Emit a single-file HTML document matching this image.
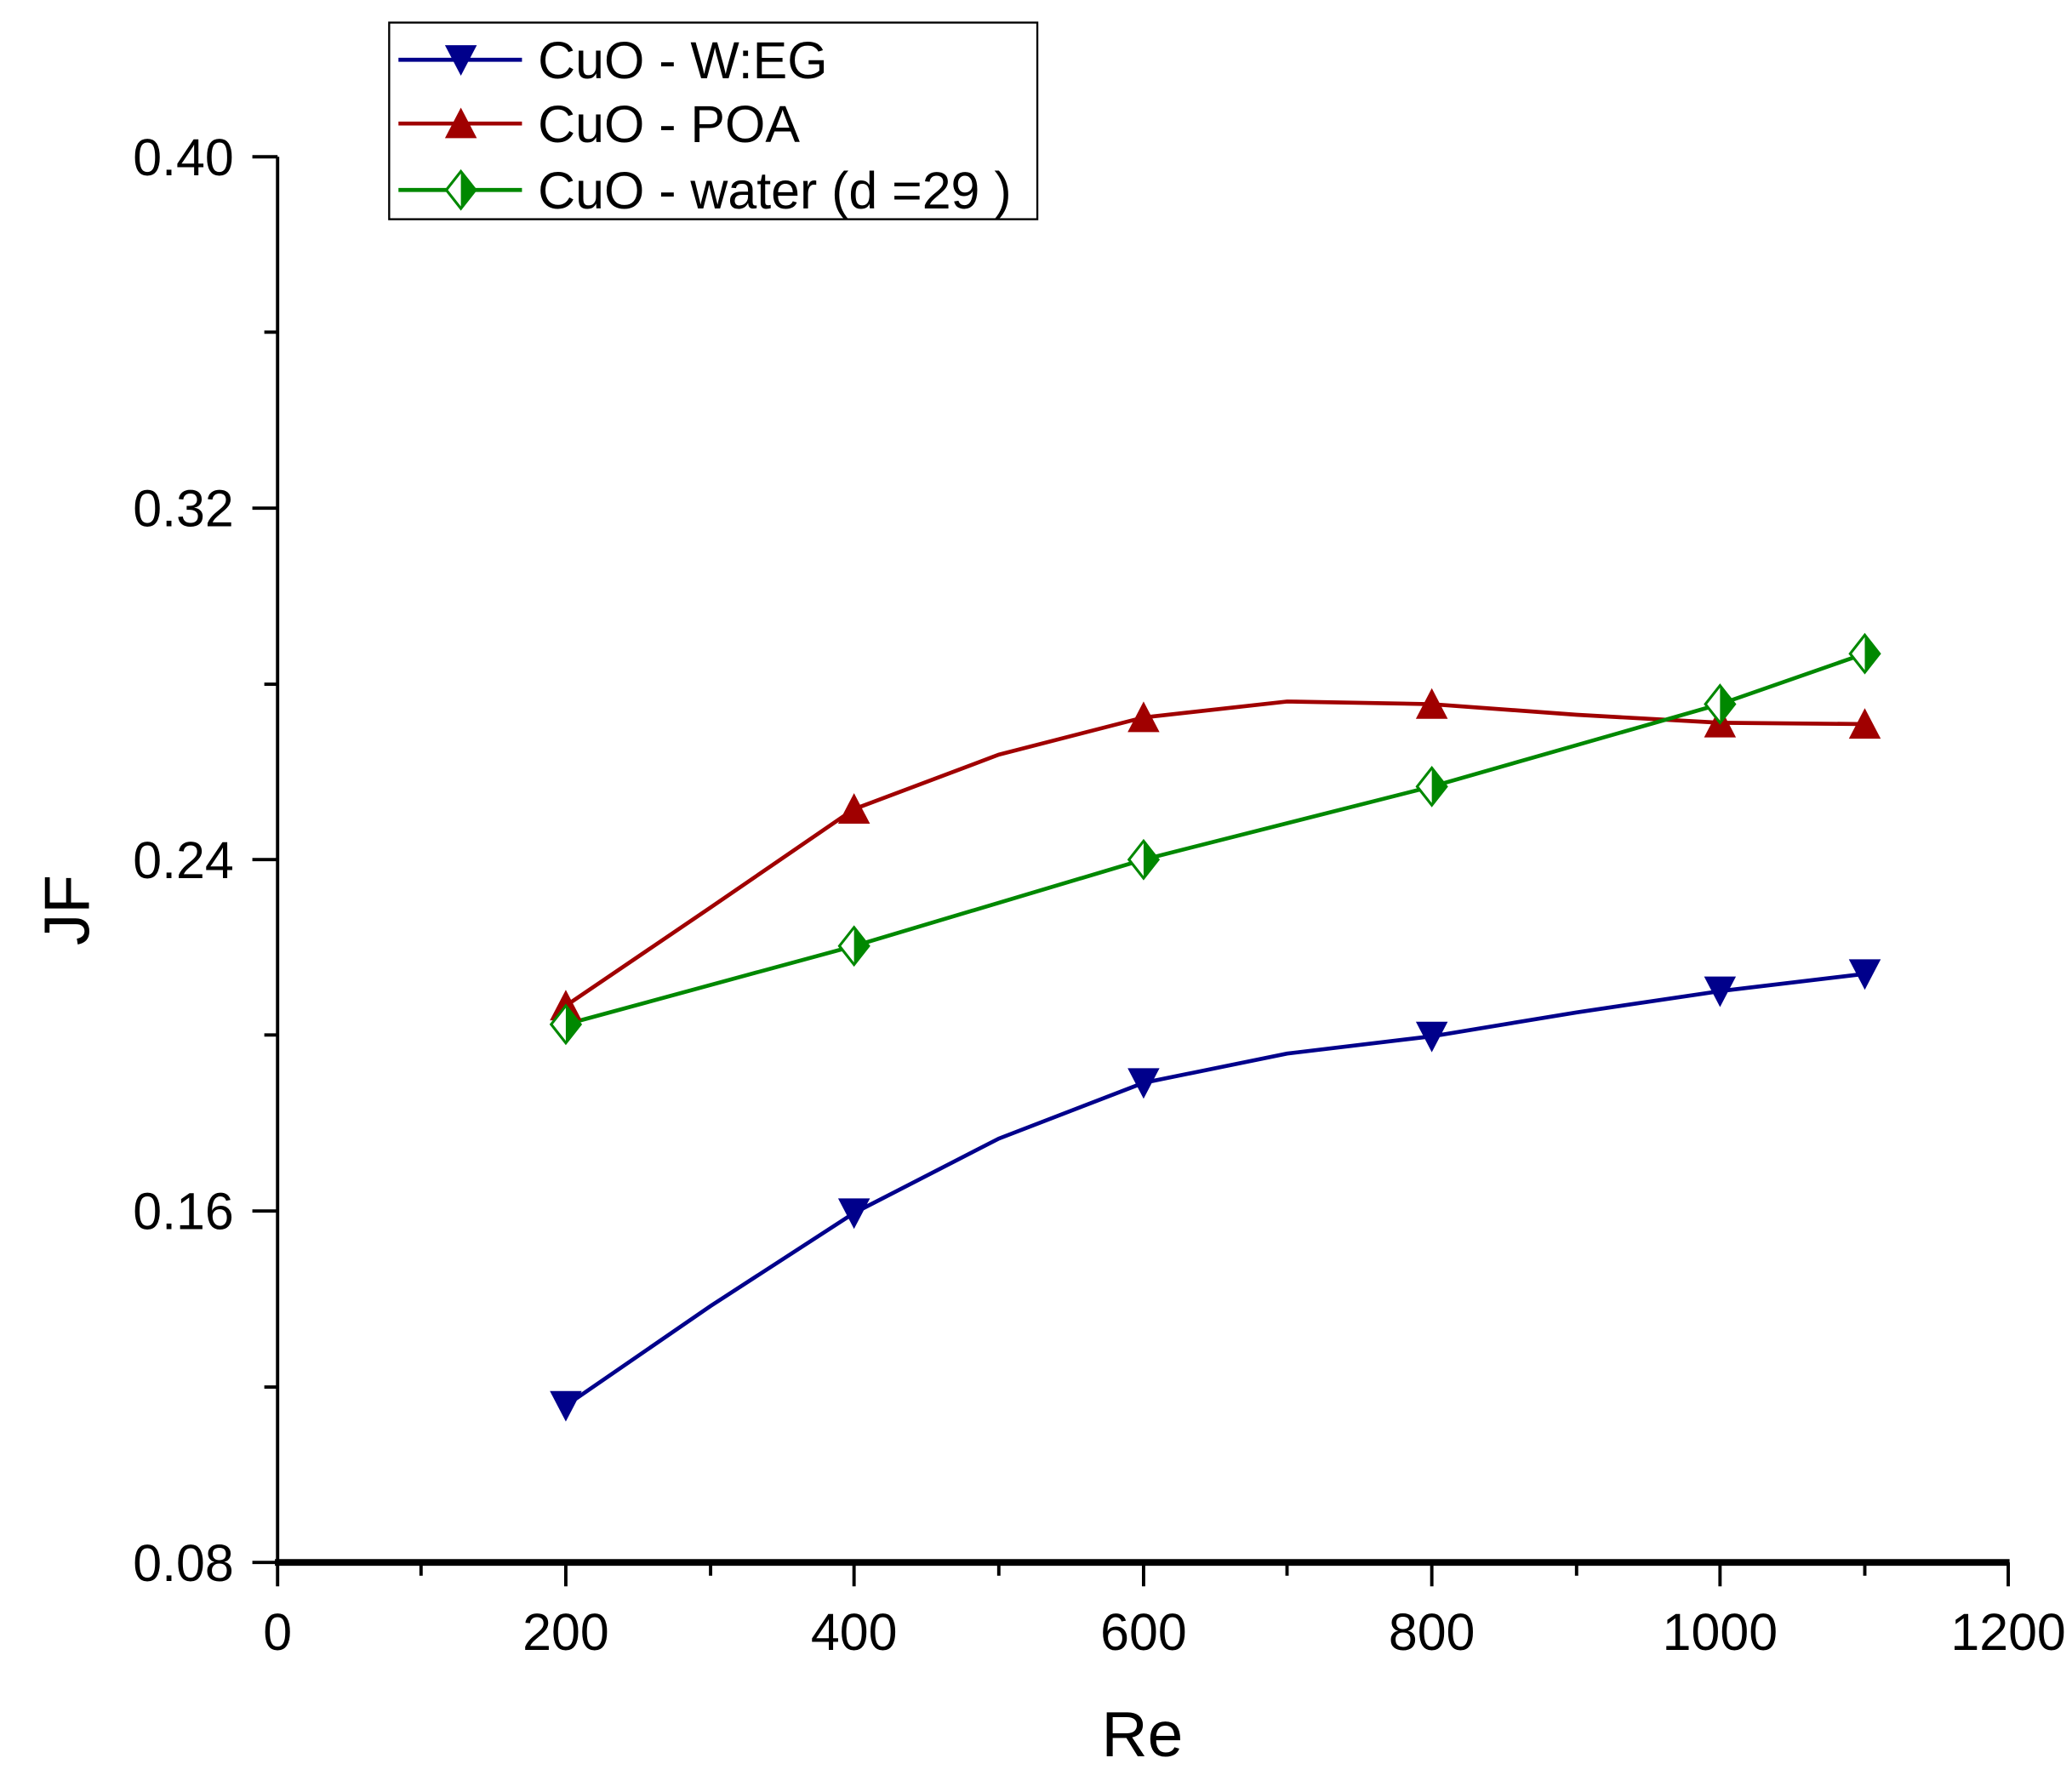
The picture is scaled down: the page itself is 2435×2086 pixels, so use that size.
<!DOCTYPE html>
<html><head><style>html,body{margin:0;padding:0;background:#fff}svg{display:block}</style></head><body>
<svg width="2435" height="2086" viewBox="0 0 1560 1336" preserveAspectRatio="none" xmlns="http://www.w3.org/2000/svg" font-family="Liberation Sans, sans-serif">
<defs>
<g id="dn"><polygon points="-12,-11 12,-11 0,12" fill="#00008b"/></g>
<g id="up"><polygon points="-12,11 12,11 0,-12" fill="#a00000"/></g>
<g id="dm"><polygon points="0,-14 11,0 0,14 -11,0" fill="#fff" stroke="#008800" stroke-width="2"/><polygon points="0,-14 11,0 0,14" fill="#008800"/></g>
</defs>
<line x1="209" y1="118" x2="209" y2="1176" stroke="#000" stroke-width="2.5"/>
<line x1="207" y1="1176" x2="1513" y2="1176" stroke="#000" stroke-width="5"/>
<g stroke="#000" stroke-width="2.5">
<line x1="190" y1="118" x2="209" y2="118"/><line x1="190" y1="382.5" x2="209" y2="382.5"/><line x1="190" y1="647" x2="209" y2="647"/><line x1="190" y1="911.5" x2="209" y2="911.5"/><line x1="190" y1="1176" x2="209" y2="1176"/>
<line x1="199" y1="250" x2="209" y2="250"/><line x1="199" y1="515" x2="209" y2="515"/><line x1="199" y1="779" x2="209" y2="779"/><line x1="199" y1="1044" x2="209" y2="1044"/>
<line x1="209" y1="1176" x2="209" y2="1194"/><line x1="426" y1="1176" x2="426" y2="1194"/><line x1="643" y1="1176" x2="643" y2="1194"/><line x1="861" y1="1176" x2="861" y2="1194"/><line x1="1078" y1="1176" x2="1078" y2="1194"/><line x1="1295" y1="1176" x2="1295" y2="1194"/><line x1="1512" y1="1176" x2="1512" y2="1194"/>
<line x1="317" y1="1176" x2="317" y2="1186"/><line x1="535" y1="1176" x2="535" y2="1186"/><line x1="752" y1="1176" x2="752" y2="1186"/><line x1="969" y1="1176" x2="969" y2="1186"/><line x1="1187" y1="1176" x2="1187" y2="1186"/><line x1="1404" y1="1176" x2="1404" y2="1186"/>
</g>
<g font-size="39" text-anchor="end" fill="#000">
<text x="176" y="132">0.40</text><text x="176" y="396">0.32</text><text x="176" y="661">0.24</text><text x="176" y="925">0.16</text><text x="176" y="1190">0.08</text>
</g>
<g font-size="39" text-anchor="middle" fill="#000">
<text x="209" y="1242">0</text><text x="426" y="1242">200</text><text x="643" y="1242">400</text><text x="861" y="1242">600</text><text x="1078" y="1242">800</text><text x="1295" y="1242">1000</text><text x="1512" y="1242">1200</text>
</g>
<text x="860" y="1322" font-size="48" text-anchor="middle">Re</text>
<text transform="translate(67,685) rotate(-90)" font-size="48" text-anchor="middle">JF</text>
<polyline fill="none" stroke="#00008b" stroke-width="3" points="426,1058 535,983 643,913 752,857 861,815 969,793 1078,780 1187,762 1295,746 1404,733"/>
<polyline fill="none" stroke="#a00000" stroke-width="3" points="426,757 535,683 643,609 752,568 861,540 969,528 1078,530 1187,538 1295,544 1404,545"/>
<polyline fill="none" stroke="#008800" stroke-width="3" points="426,771 643,712 861,647 1078,592 1295,530 1404,492"/>
<use href="#dn" x="426" y="1058"/><use href="#dn" x="643" y="913"/><use href="#dn" x="861" y="815"/><use href="#dn" x="1078" y="780"/><use href="#dn" x="1295" y="746"/><use href="#dn" x="1404" y="733"/>
<use href="#up" x="426" y="757"/><use href="#up" x="643" y="609"/><use href="#up" x="861" y="540"/><use href="#up" x="1078" y="530"/><use href="#up" x="1295" y="544"/><use href="#up" x="1404" y="545"/>
<use href="#dm" x="426" y="771"/><use href="#dm" x="643" y="712"/><use href="#dm" x="861" y="647"/><use href="#dm" x="1078" y="592"/><use href="#dm" x="1295" y="530"/><use href="#dm" x="1404" y="492"/>
<rect x="293" y="17" width="488" height="148" fill="#fff" stroke="#000" stroke-width="1.5"/>
<line x1="300" y1="45" x2="393" y2="45" stroke="#00008b" stroke-width="3"/><use href="#dn" x="347" y="45"/>
<line x1="300" y1="93" x2="393" y2="93" stroke="#a00000" stroke-width="3"/><use href="#up" x="347" y="93"/>
<line x1="300" y1="143" x2="393" y2="143" stroke="#008800" stroke-width="3"/><use href="#dm" x="347" y="143"/>
<g font-size="39" fill="#000"><text x="405" y="59">CuO - W:EG</text><text x="405" y="107">CuO - POA</text><text x="405" y="157">CuO - water (d =29 )</text></g>
</svg>
</body></html>
